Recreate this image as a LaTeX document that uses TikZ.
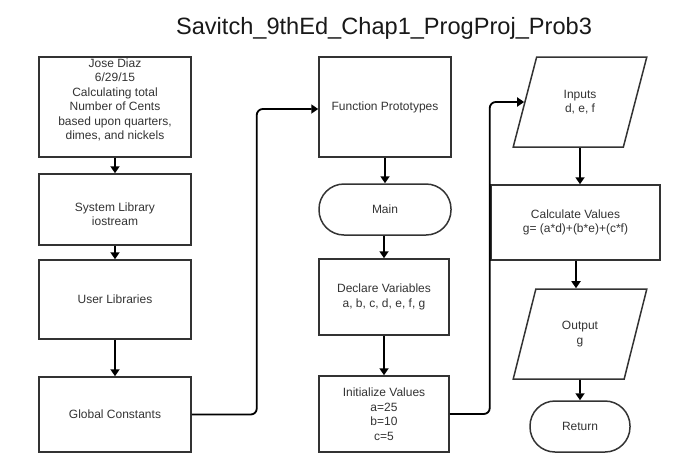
\documentclass[tikz,border=0pt]{standalone}
\usepackage{fontspec}
\setmainfont{Liberation Sans}
\usetikzlibrary{arrows.meta,shapes.geometric}
\definecolor{ink}{HTML}{333333}
\definecolor{edge}{HTML}{333333}
\tikzset{
  box/.style={draw=edge, line width=1.5pt, inner sep=0pt, text=ink, font=\fontsize{12}{14.5}\selectfont, align=center},
  term/.style={box, rounded corners=25pt},
  para/.style={box, shape=trapezium, trapezium left angle=70, trapezium right angle=110, trapezium stretches=true},
  txt/.style={text=ink, font=\fontsize{12}{14.5}\selectfont, align=center, inner sep=0pt},
  conn/.style={draw=black, line width=1.8pt, rounded corners=6pt, -{Triangle[width=9pt,length=7pt]}}
}
\begin{document}
\begin{tikzpicture}[x=1pt,y=-1pt]
\useasboundingbox (0,0) rectangle (684,472);
\node[text=black!90, font=\fontsize{23.6}{26}\selectfont, anchor=base, inner sep=0pt] (title) at (384,34.5) {Savitch\_9thEd\_Chap1\_ProgProj\_Prob3};
% column 1
\node[box, minimum width=152, minimum height=100] (b1) at (115,107) {};
\node[txt] (b1t) at (115,100) {Jose Diaz\\6/29/15\\Calculating total\\Number of Cents\\based upon quarters,\\dimes, and nickels};
\node[box, minimum width=152, minimum height=71] (b2) at (115,209.5) {};
\node[txt] (b2t) at (115,214) {System Library\\iostream};
\node[box, minimum width=152, minimum height=79] (b3) at (115,299.5) {User Libraries};
\node[box, minimum width=152, minimum height=75] (b4) at (115,414.5) {Global Constants};
% column 2
\node[box, minimum width=132, minimum height=100] (fp) at (385,107) {Function Prototypes};
\node[term, minimum width=132, minimum height=51] (main) at (385,209.5) {Main};
\node[box, minimum width=130, minimum height=76] (dv) at (384,297) {Declare Variables\\a, b, c, d, e, f, g};
\node[box, minimum width=130, minimum height=76] (iv) at (384,414) {Initialize Values\\a=25\\b=10\\c=5};
% column 3
\node[para, minimum width=134, minimum height=90] (inp) at (580,102) {Inputs\\d, e, f};
\node[box, minimum width=169, minimum height=75] (cv) at (575.5,222.5) {Calculate Values\\g= (a*d)+(b*e)+(c*f)};
\node[para, minimum width=134, minimum height=90] (out) at (580,334) {Output\\g};
\node[term, minimum width=100, minimum height=51] (ret) at (580,426.5) {Return};
% connectors
\draw[conn] (b1) -- (b2);
\draw[conn] (b2) -- (b3);
\draw[conn] (b3) -- (b4);
\draw[conn] (b4.east) -- ++(65,0) |- ([yshift=-2pt]fp.west);
\draw[conn] (fp) -- (main);
\draw[conn] (main.south -| dv.north) -- (dv.north);
\draw[conn] (dv) -- (iv);
\draw[conn] (iv.east) -- ++(40,0) |- (inp.west);
\draw[conn] (inp.south) -- (inp.south |- cv.north);
\draw[conn] ([xshift=0.5pt]cv.south) -- ([xshift=0.5pt]cv.south |- out.north);
\draw[conn] (out.south) -- (ret.north);
\end{tikzpicture}
\end{document}
